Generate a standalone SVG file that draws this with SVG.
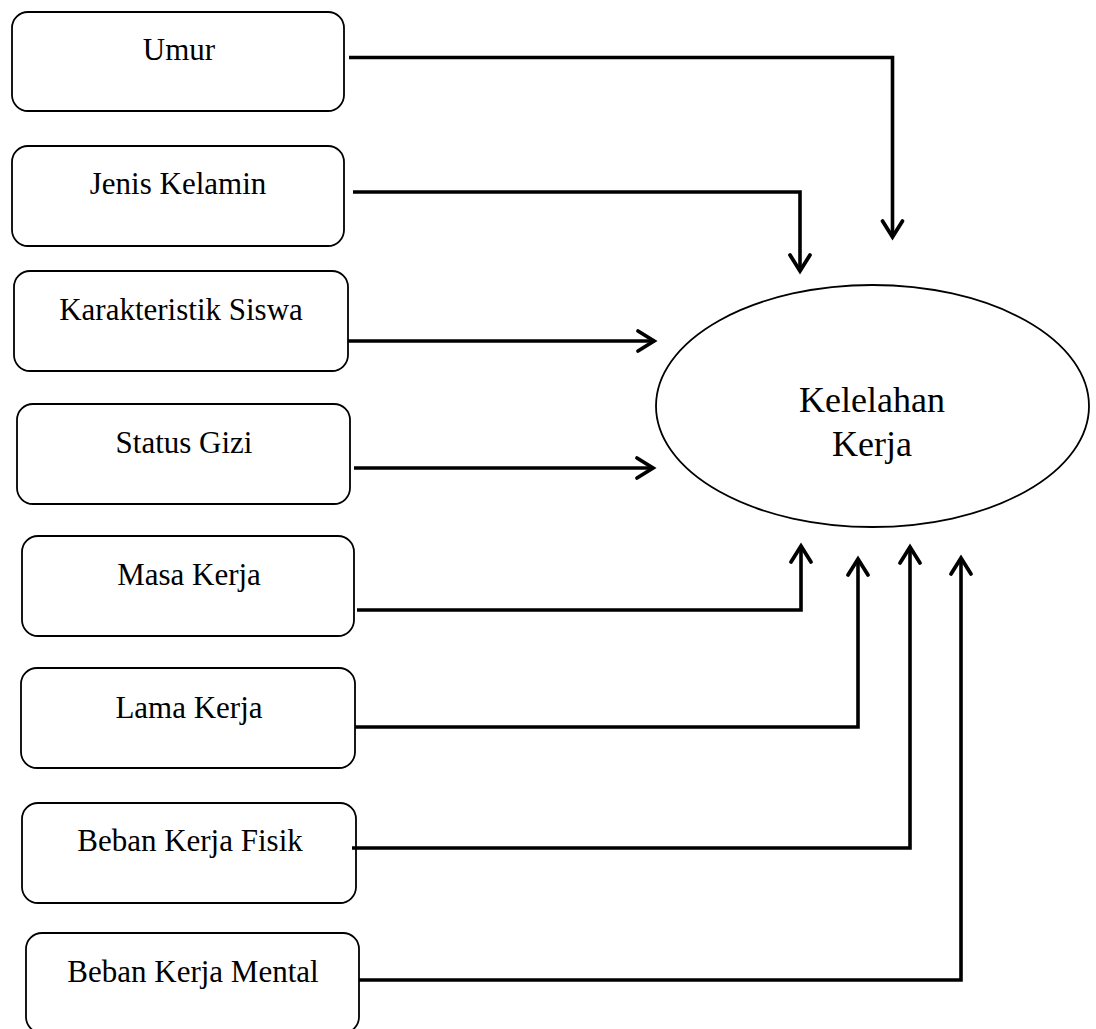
<svg xmlns="http://www.w3.org/2000/svg" width="1096" height="1029" viewBox="0 0 1096 1029">
<defs>
<style>
.box{fill:#fff;stroke:#000;stroke-width:1.8}
.lbl{font-family:'Liberation Serif','Times New Roman','DejaVu Serif',serif;font-size:31px;fill:#000;text-anchor:middle}
.big{font-family:'Liberation Serif','Times New Roman','DejaVu Serif',serif;font-size:36px;fill:#000;text-anchor:middle}
.con{fill:none;stroke:#000;stroke-width:3.6;stroke-linejoin:miter}
</style>
<marker id="arr" markerUnits="userSpaceOnUse" markerWidth="30" markerHeight="30" viewBox="-20 -15 30 30" refX="0" refY="0" orient="auto" overflow="visible">
<path d="M-16,-10 L0,0 L-16,10" fill="none" stroke="#000" stroke-width="3.8" stroke-linecap="round" stroke-linejoin="miter"/>
</marker>
</defs>
<rect width="1096" height="1029" fill="#fff"/>
<g id="umur"><rect class="box" x="12" y="12" width="332" height="99" rx="16"/><text class="lbl" x="179" y="60" font-family="Liberation Serif, serif">Umur</text></g>
<g id="jenis-kelamin"><rect class="box" x="12" y="146" width="332" height="100" rx="16"/><text class="lbl" x="178" y="194" font-family="Liberation Serif, serif">Jenis Kelamin</text></g>
<g id="karakteristik-siswa"><rect class="box" x="14" y="271" width="334" height="100" rx="16"/><text class="lbl" x="181" y="320" font-family="Liberation Serif, serif">Karakteristik Siswa</text></g>
<g id="status-gizi"><rect class="box" x="17" y="404" width="333" height="100" rx="16"/><text class="lbl" x="184" y="453" font-family="Liberation Serif, serif">Status Gizi</text></g>
<g id="masa-kerja"><rect class="box" x="22" y="536" width="332" height="100" rx="16"/><text class="lbl" x="189" y="585" font-family="Liberation Serif, serif">Masa Kerja</text></g>
<g id="lama-kerja"><rect class="box" x="21" y="668" width="334" height="100" rx="16"/><text class="lbl" x="189" y="718" font-family="Liberation Serif, serif">Lama Kerja</text></g>
<g id="beban-kerja-fisik"><rect class="box" x="22" y="803" width="334" height="100" rx="16"/><text class="lbl" x="190" y="851" font-family="Liberation Serif, serif">Beban Kerja Fisik</text></g>
<g id="beban-kerja-mental"><rect class="box" x="26" y="933" width="333" height="100" rx="16"/><text class="lbl" x="193" y="982" font-family="Liberation Serif, serif">Beban Kerja Mental</text></g>
<g id="kelelahan-kerja"><ellipse cx="872.5" cy="406" rx="216.5" ry="121" fill="#fff" stroke="#000" stroke-width="1.8"/><text class="big" x="872" y="412" font-family="Liberation Serif, serif">Kelelahan</text><text class="big" x="872" y="456" font-family="Liberation Serif, serif">Kerja</text></g>
<g id="connectors">
<path class="con" d="M349,57.5 H892.5 V237" marker-end="url(#arr)"/>
<path class="con" d="M353,192 H800 V271" marker-end="url(#arr)"/>
<path class="con" d="M348,341 H654" marker-end="url(#arr)"/>
<path class="con" d="M354,468 H653" marker-end="url(#arr)"/>
<path class="con" d="M357,610 H801 V546" marker-end="url(#arr)"/>
<path class="con" d="M355,727 H858 V559" marker-end="url(#arr)"/>
<path class="con" d="M352,848 H910 V547" marker-end="url(#arr)"/>
<path class="con" d="M359,980 H961 V558" marker-end="url(#arr)"/>
</g>
</svg>
